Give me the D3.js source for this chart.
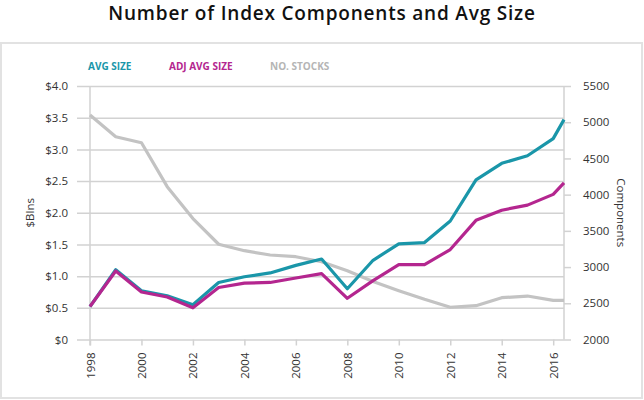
<!DOCTYPE html>
<html>
<head>
<meta charset="utf-8">
<script src="https://cdn.jsdelivr.net/npm/d3@7"></script>
<style>
  html, body { margin: 0; padding: 0; background: #fff; }
  svg { display: block; font-family: "Open Sans", "Noto Sans", sans-serif; }
</style>
</head>
<body>
<svg id="chart" width="644" height="400"></svg>
<script>
// ---- data ----
const years = [1998, 1999, 2000, 2001, 2002, 2003, 2004, 2005, 2006, 2007, 2008,
               2009, 2010, 2011, 2012, 2013, 2014, 2015, 2016, 2016.42];
const avgSize = [0.52, 1.10, 0.77, 0.69, 0.55, 0.90, 0.99, 1.05, 1.17, 1.27, 0.80,
                 1.25, 1.51, 1.53, 1.87, 2.52, 2.78, 2.90, 3.17, 3.47];
const adjAvgSize = [0.52, 1.08, 0.75, 0.67, 0.50, 0.82, 0.89, 0.90, 0.97, 1.04, 0.65,
                    0.93, 1.18, 1.18, 1.42, 1.88, 2.04, 2.12, 2.29, 2.47];
const noStocks = [5100, 4800, 4717, 4110, 3670, 3315, 3226, 3167, 3143, 3074, 2950,
                  2800, 2674, 2555, 2445, 2467, 2577, 2600, 2541, 2540];
const leftTicks = [0, 0.5, 1.0, 1.5, 2.0, 2.5, 3.0, 3.5, 4.0];
const rightTicks = [2000, 2500, 3000, 3500, 4000, 4500, 5000, 5500];
const xTicks = [1998, 2000, 2002, 2004, 2006, 2008, 2010, 2012, 2014, 2016];
const seriesNames = ["AVG SIZE", "ADJ AVG SIZE", "NO. STOCKS"];
const titleText = "Number of Index Components and Avg Size";

// ---- styles ----
const colors = { avg: "#1a96a9", adj: "#b4268f", stocks: "#c3c3c3" };
const gridColor = "#d2d2d2";
const textColor = "#333";

const svg = d3.select("#chart");

// frame
svg.append("rect")
  .attr("x", 1).attr("y", 43).attr("width", 641).attr("height", 355)
  .attr("fill", "none").attr("stroke", "#e2e2e2").attr("stroke-width", 2);

// title
svg.append("text")
  .attr("x", 322).attr("y", 20)
  .attr("text-anchor", "middle")
  .attr("font-size", 19).attr("font-weight", 600)
  .attr("letter-spacing", "0.8px")
  .attr("fill", "#111")
  .text(titleText);

const plot = { left: 90, right: 564, top: 86, bottom: 339.5 };

const x = d3.scaleLinear().domain([1998, years[years.length - 1]]).range([plot.left, plot.right]);
const yL = d3.scaleLinear().domain([0, 4]).range([plot.bottom, plot.top]);
const yR = d3.scaleLinear().domain([2000, 5500]).range([plot.bottom, plot.top]);

// grid lines (left axis ticks)
const gLeft = svg.append("g").attr("transform", `translate(${plot.left},0)`)
  .call(d3.axisLeft(yL).tickValues(leftTicks).tickSize(13)
        .tickFormat(d => "$" + (d === 0 ? "0" : d3.format(".1f")(d))));
gLeft.select(".domain").remove();
gLeft.selectAll(".tick line").attr("stroke", gridColor).attr("stroke-width", 1.5)
  .attr("x1", -13).attr("x2", plot.right - plot.left);
gLeft.selectAll(".tick text").attr("x", -22).attr("fill", textColor)
  .attr("font-size", 11.5).attr("font-family", "\"Open Sans\", sans-serif");

// left vertical axis line
svg.append("line")
  .attr("x1", plot.left).attr("x2", plot.left)
  .attr("y1", plot.top).attr("y2", plot.bottom + 6)
  .attr("stroke", gridColor).attr("stroke-width", 1.5);

// right axis
const gRight = svg.append("g").attr("transform", `translate(${plot.right},0)`)
  .call(d3.axisRight(yR).tickValues(rightTicks).tickSize(7).tickFormat(d3.format("d")));
gRight.select(".domain").attr("stroke", gridColor).attr("stroke-width", 1.5)
  .attr("d", `M0,${plot.top}V${plot.bottom}`);
gRight.selectAll(".tick line").attr("stroke", gridColor).attr("stroke-width", 1.5);
gRight.selectAll(".tick text").attr("x", 19).attr("fill", textColor)
  .attr("font-size", 11.5).attr("font-family", "\"Open Sans\", sans-serif");

// bottom axis
const gBottom = svg.append("g").attr("transform", `translate(0,${plot.bottom})`)
  .call(d3.axisBottom(x).tickValues(xTicks).tickSize(6).tickFormat(d3.format("d")));
gBottom.select(".domain").remove();
gBottom.selectAll(".tick line").attr("stroke", gridColor).attr("stroke-width", 1.5);
gBottom.selectAll(".tick text")
  .attr("fill", textColor).attr("font-size", 11.5)
  .attr("font-family", "\"Open Sans\", sans-serif")
  .attr("text-anchor", "end")
  .attr("transform", "rotate(-90)")
  .attr("x", -13).attr("y", 0).attr("dy", "0.35em");

// axis titles
svg.append("text")
  .attr("transform", `translate(34,${(plot.top + plot.bottom) / 2}) rotate(-90)`)
  .attr("text-anchor", "middle").attr("font-size", 11.5).attr("fill", textColor)
  .text("$Blns");
svg.append("text")
  .attr("transform", `translate(617,${(plot.top + plot.bottom) / 2}) rotate(90)`)
  .attr("text-anchor", "middle").attr("font-size", 11.5).attr("fill", textColor)
  .text("Components");

// lines
const lineL = d3.line().x((d, i) => x(years[i])).y(d => yL(d));
const lineR = d3.line().x((d, i) => x(years[i])).y(d => yR(d));

svg.append("path").datum(noStocks).attr("d", lineR)
  .attr("fill", "none").attr("stroke", colors.stocks).attr("stroke-width", 3.2)
  .attr("stroke-linejoin", "round");
svg.append("path").datum(avgSize).attr("d", lineL)
  .attr("fill", "none").attr("stroke", colors.avg).attr("stroke-width", 3.2)
  .attr("stroke-linejoin", "round");
svg.append("path").datum(adjAvgSize).attr("d", lineL)
  .attr("fill", "none").attr("stroke", colors.adj).attr("stroke-width", 3.2)
  .attr("stroke-linejoin", "round");

// legend
const legendX = [88, 169, 270];
const legendColors = [colors.avg, colors.adj, "#b5b5b5"];
svg.append("g").selectAll("text").data(seriesNames).join("text")
  .attr("x", (d, i) => legendX[i]).attr("y", 70)
  .attr("font-size", 10).attr("font-weight", 700)
  .attr("fill", (d, i) => legendColors[i])
  .text(d => d);
</script>
</body>
</html>
